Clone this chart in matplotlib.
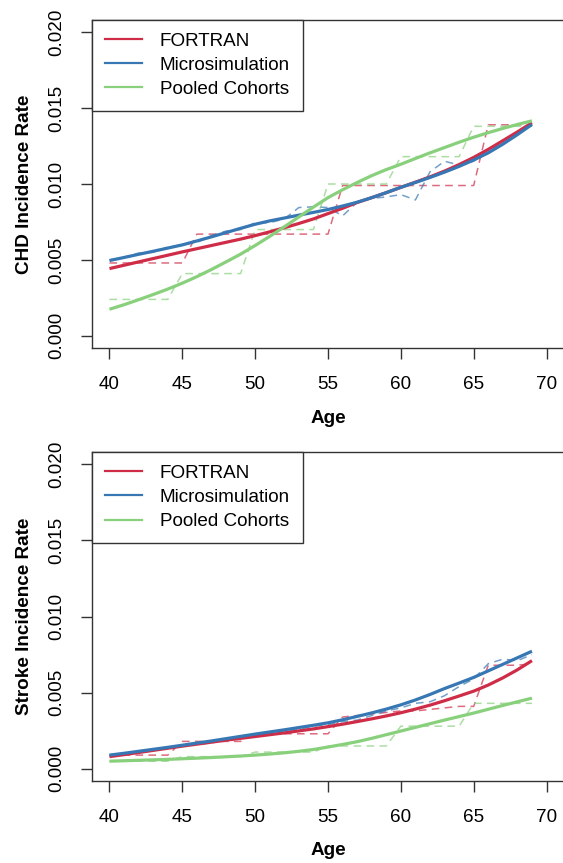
import numpy as np
import matplotlib
matplotlib.use("Agg")
import matplotlib.pyplot as plt
from matplotlib.lines import Line2D

plt.rcParams['font.family'] = ['Liberation Sans', 'DejaVu Sans']

ages = np.arange(40, 70)

# CHD incidence: smoothed curves
chd_fortran = [0.00443, 0.00465, 0.00487, 0.00509, 0.00531, 0.00553, 0.00574, 0.00595,
               0.00616, 0.00637, 0.00660, 0.00685, 0.00712, 0.00740, 0.00770, 0.00805,
               0.00840, 0.00878, 0.00910, 0.00943, 0.00978, 0.01012, 0.01047, 0.01085,
               0.01128, 0.01175, 0.01228, 0.01285, 0.01343, 0.01403]
chd_micro = [0.00496, 0.00516, 0.00537, 0.00557, 0.00578, 0.00599, 0.00625, 0.00652,
             0.00680, 0.00708, 0.00735, 0.00757, 0.00776, 0.00795, 0.00813, 0.00832,
             0.00855, 0.00880, 0.00910, 0.00943, 0.00978, 0.01010, 0.01043, 0.01078,
             0.01116, 0.01158, 0.01205, 0.01262, 0.01325, 0.01392]
chd_pooled = [0.00175, 0.00205, 0.00238, 0.00272, 0.00308, 0.00347, 0.00390, 0.00437,
              0.00487, 0.00538, 0.00595, 0.00655, 0.00718, 0.00783, 0.00848, 0.00910,
              0.00962, 0.01010, 0.01055, 0.01095, 0.01130, 0.01168, 0.01205, 0.01240,
              0.01275, 0.01308, 0.01338, 0.01366, 0.01392, 0.01416]

# CHD incidence: raw yearly rates
chd_fortran_raw = [0.0048, 0.0048, 0.0048, 0.0048, 0.0048, 0.0048, 0.0067, 0.0067,
                   0.0067, 0.0067, 0.0067, 0.0067, 0.0067, 0.0067, 0.0067, 0.0067,
                   0.0099, 0.0099, 0.0099, 0.0099, 0.0099, 0.0099, 0.0099, 0.0099,
                   0.0099, 0.0099, 0.0139, 0.0139, 0.0139, 0.0139]
chd_micro_raw = [0.00500, 0.00518, 0.00545, 0.00550, 0.00585, 0.00600, 0.00615, 0.00660,
                 0.00690, 0.00700, 0.00745, 0.00745, 0.00770, 0.00845, 0.00850, 0.00845,
                 0.00790, 0.00880, 0.00905, 0.00915, 0.00930, 0.00895, 0.01080, 0.01150,
                 0.01125, 0.01150, 0.01225, 0.01260, 0.01330, 0.01390]
chd_pooled_raw = [0.0024, 0.0024, 0.0024, 0.0024, 0.0024, 0.0041, 0.0041, 0.0041,
                  0.0041, 0.0041, 0.0070, 0.0070, 0.0070, 0.0070, 0.0070, 0.0100,
                  0.0100, 0.0100, 0.0100, 0.0100, 0.0118, 0.0118, 0.0118, 0.0118,
                  0.0118, 0.0138, 0.0138, 0.0138, 0.0138, 0.0138]

# Stroke incidence: smoothed curves
stroke_fortran = [0.00080, 0.00093, 0.00107, 0.00121, 0.00135, 0.00149, 0.00162, 0.00175,
                  0.00188, 0.00200, 0.00212, 0.00224, 0.00236, 0.00249, 0.00262, 0.00277,
                  0.00293, 0.00310, 0.00328, 0.00347, 0.00368, 0.00392, 0.00418, 0.00447,
                  0.00478, 0.00510, 0.00550, 0.00597, 0.00650, 0.00710]
stroke_micro = [0.00090, 0.00102, 0.00115, 0.00128, 0.00141, 0.00155, 0.00169, 0.00183,
                0.00198, 0.00213, 0.00228, 0.00242, 0.00256, 0.00271, 0.00286, 0.00302,
                0.00322, 0.00344, 0.00367, 0.00392, 0.00420, 0.00452, 0.00488, 0.00527,
                0.00563, 0.00600, 0.00643, 0.00686, 0.00729, 0.00772]
stroke_pooled = [0.00050, 0.00053, 0.00056, 0.00059, 0.00062, 0.00066, 0.00070, 0.00074,
                 0.00079, 0.00084, 0.00090, 0.00097, 0.00105, 0.00115, 0.00127, 0.00143,
                 0.00160, 0.00178, 0.00200, 0.00224, 0.00248, 0.00272, 0.00296, 0.00320,
                 0.00343, 0.00366, 0.00391, 0.00416, 0.00440, 0.00464]

# Stroke incidence: raw yearly rates
stroke_fortran_raw = [0.0009, 0.0009, 0.0009, 0.0009, 0.0009, 0.0018, 0.0018, 0.0018,
                      0.0018, 0.0018, 0.0023, 0.0023, 0.0023, 0.0023, 0.0023, 0.0023,
                      0.0034, 0.0035, 0.0036, 0.0037, 0.0038, 0.0038, 0.0039, 0.0040,
                      0.0041, 0.0041, 0.0068, 0.0068, 0.0068, 0.0069]
stroke_micro_raw = [0.0009, 0.0010, 0.0011, 0.0012, 0.0014, 0.0015, 0.0016, 0.0017,
                    0.0019, 0.0020, 0.0022, 0.0023, 0.0025, 0.0026, 0.0028, 0.0029,
                    0.0031, 0.0032, 0.0035, 0.0038, 0.0040, 0.0043, 0.0044, 0.0048,
                    0.0054, 0.0059, 0.0069, 0.0072, 0.0071, 0.0075]
stroke_pooled_raw = [0.0005, 0.0005, 0.0005, 0.0005, 0.0005, 0.0008, 0.0008, 0.0008,
                     0.0008, 0.0008, 0.0011, 0.0011, 0.0011, 0.0011, 0.0011, 0.0015,
                     0.0015, 0.0015, 0.0015, 0.0015, 0.0028, 0.0028, 0.0028, 0.0028,
                     0.0028, 0.0043, 0.0043, 0.0043, 0.0043, 0.0043]

series_names = ["FORTRAN", "Microsimulation", "Pooled Cohorts"]
colors = ["#CF2C48", "#3778B4", "#88D07C"]

x_ticks = [40, 45, 50, 55, 60, 65, 70]
y_ticks = [0.000, 0.005, 0.010, 0.015, 0.020]

FS = 13.6
W, H = 563, 863


def draw_panel(ax, curves, raws):
    for raw, col in zip(raws, colors):
        ax.plot(ages, raw, color=col, lw=1.1, alpha=0.7,
                linestyle=(0, (5, 3.5)), zorder=2)
    for curve, col in zip(curves, colors):
        ax.plot(ages, curve, color=col, lw=2.3, zorder=3,
                solid_capstyle='butt')

    ax.set_xlim(38.8, 71.2)
    ax.set_ylim(-0.0008, 0.0208)
    ax.set_xticks(x_ticks)
    ax.set_yticks(y_ticks)
    ax.set_xticklabels([str(t) for t in x_ticks])
    ax.set_yticklabels([f"{t:.3f}" for t in y_ticks], rotation=90, va='center')
    ax.tick_params(axis='both', direction='out', length=8, width=1.0,
                   color='#333333', labelsize=FS, labelcolor='black')
    ax.tick_params(axis='x', pad=12)
    ax.tick_params(axis='y', pad=11)
    for sp in ax.spines.values():
        sp.set_color('#333333')
        sp.set_linewidth(1.0)

    handles = [Line2D([], [], color=c, lw=1.6) for c in colors]
    leg = ax.legend(handles, series_names, loc='upper left',
                    bbox_to_anchor=(0, 1), borderaxespad=0, fancybox=False,
                    fontsize=FS, handlelength=1.95, handletextpad=0.95,
                    labelspacing=0.36, borderpad=0.68, framealpha=1)
    leg.get_frame().set_edgecolor('#333333')
    leg.get_frame().set_linewidth(1.0)


fig = plt.figure(figsize=(W / 100, H / 100), dpi=100)

# panel boxes in pixel units: left, top, right, bottom
boxes = [(92, 20, 564, 348), (92, 452, 564, 781)]
axes = []
for l, t, r, b in boxes:
    axes.append(fig.add_axes([l / W, 1 - b / H, (r - l) / W, (b - t) / H]))

draw_panel(axes[0], [chd_fortran, chd_micro, chd_pooled],
           [chd_fortran_raw, chd_micro_raw, chd_pooled_raw])
draw_panel(axes[1], [stroke_fortran, stroke_micro, stroke_pooled],
           [stroke_fortran_raw, stroke_micro_raw, stroke_pooled_raw])

# axis titles placed like base R's mtext lines
for (l, t, r, b), ylab, age_y in zip(boxes, ["CHD Incidence Rate", "Stroke Incidence Rate"], [418, 850]):
    fig.text(25 / W, 1 - (t + b) / 2 / H, ylab, rotation=90, ha='center', va='center',
             fontsize=FS, fontweight='bold')
    fig.text((l + r) / 2 / W, 1 - age_y / H, "Age", ha='center', va='center',
             fontsize=FS, fontweight='bold')

fig.savefig("out.png", dpi=100)
